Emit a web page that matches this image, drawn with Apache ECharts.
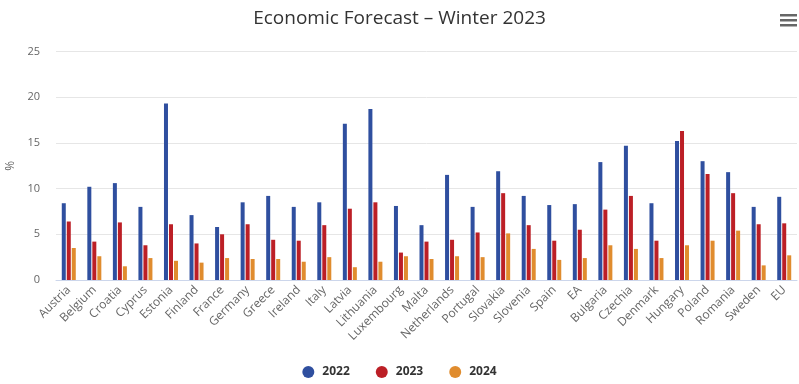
<!DOCTYPE html>
<html><head><meta charset="utf-8">
<script src="https://cdn.jsdelivr.net/npm/echarts@6/dist/echarts.min.js"></script>
<style>html,body{margin:0;padding:0;background:#fff}#c{width:799px;height:384px}</style>
</head><body><div id="c"></div>
<script>
const categories = ["Austria","Belgium","Croatia","Cyprus","Estonia","Finland","France","Germany","Greece","Ireland","Italy","Latvia","Lithuania","Luxembourg","Malta","Netherlands","Portugal","Slovakia","Slovenia","Spain","EA","Bulgaria","Czechia","Denmark","Hungary","Poland","Romania","Sweden","EU"];
const v2022 = [8.4,10.2,10.6,8.0,19.3,7.1,5.8,8.5,9.2,8.0,8.5,17.1,18.7,8.1,6.0,11.5,8.0,11.9,9.2,8.2,8.3,12.9,14.7,8.4,15.2,13.0,11.8,8.0,9.1];
const v2023 = [6.4,4.2,6.3,3.8,6.1,4.0,5.0,6.1,4.4,4.3,6.0,7.8,8.5,3.0,4.2,4.4,5.2,9.5,6.0,4.3,5.5,7.7,9.2,4.3,16.3,11.6,9.5,6.1,6.2];
const v2024 = [3.5,2.6,1.5,2.4,2.1,1.9,2.4,2.3,2.3,2.0,2.5,1.4,2.0,2.6,2.3,2.6,2.5,5.1,3.4,2.2,2.4,3.8,3.4,2.4,3.8,4.3,5.4,1.6,2.7];
const seriesNames = ["2022","2023","2024"];
const colors = ["#2f4f9f","#bc1f26","#e08c2e"];
const yTicks = [0,5,10,15,20,25];

const chart = echarts.init(document.getElementById('c'));
const font = '"Open Sans", sans-serif';
chart.setOption({
  animation:false,
  color: colors,
  title:{text:'Economic Forecast – Winter 2023',left:'center',top:4,textStyle:{fontFamily:font,fontSize:19,fontWeight:'normal',color:'#333'}},
  legend:{bottom:1,left:'center',icon:'circle',itemWidth:18,itemHeight:12,itemGap:26,data:seriesNames,textStyle:{fontFamily:font,fontSize:12,fontWeight:'bold',color:'#333'}},
  grid:{left:56,right:2,top:51.5,bottom:104,containLabel:false,outerBoundsMode:'none'},
  xAxis:{type:'category',data:categories,axisLine:{lineStyle:{color:'#ccd6eb'}},axisTick:{show:false},
    axisLabel:{rotate:45,interval:0,fontFamily:font,fontSize:12,color:'#666',margin:8}},
  yAxis:{type:'value',min:yTicks[0],max:yTicks[yTicks.length-1],interval:5,name:'%',nameLocation:'middle',nameGap:37,nameRotate:90,
    nameTextStyle:{fontFamily:font,fontSize:12,color:'#666'},
    axisLabel:{fontFamily:font,fontSize:11,color:'#666',margin:16},splitLine:{lineStyle:{color:'#e6e6e6'}},axisLine:{show:false},axisTick:{show:false}},
  series:[
    {name:seriesNames[0],type:'bar',data:v2022,barWidth:4,barGap:'25%'},
    {name:seriesNames[1],type:'bar',data:v2023,barWidth:4,barGap:'25%'},
    {name:seriesNames[2],type:'bar',data:v2024,barWidth:4,barGap:'25%'}
  ],
  graphic:[
    {type:'rect',left:780,top:14,shape:{width:17,height:2.5},style:{fill:'#666'}},
    {type:'rect',left:780,top:19,shape:{width:17,height:2.5},style:{fill:'#666'}},
    {type:'rect',left:780,top:24,shape:{width:17,height:2.5},style:{fill:'#666'}}
  ]
});
</script></body></html>
